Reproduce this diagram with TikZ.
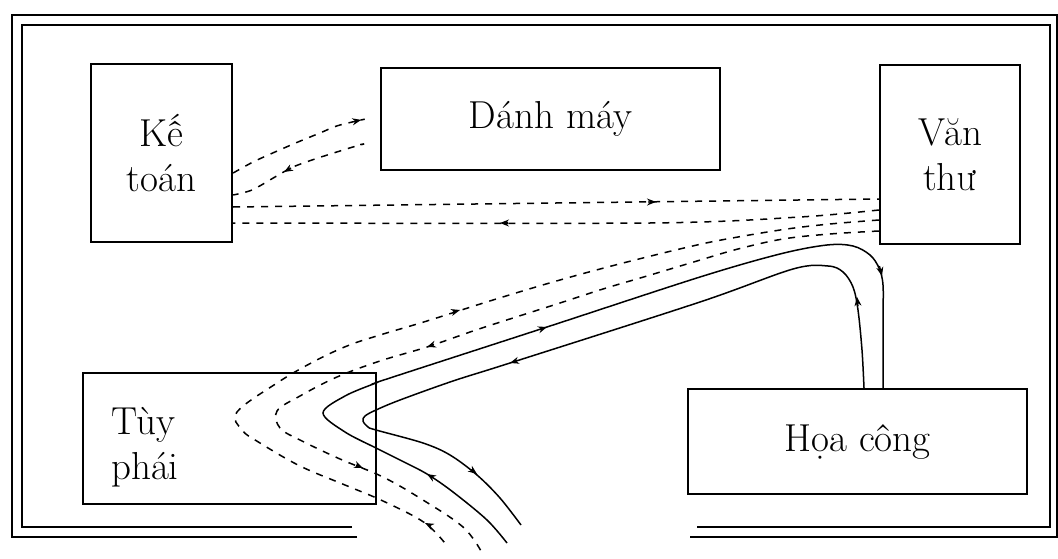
\documentclass[tikz,border=0pt]{standalone}
\usetikzlibrary{arrows.meta}
\begin{document}
\begin{tikzpicture}[x=1pt,y=-1pt,
  box/.style={draw,line width=2.3pt,inner sep=0pt,align=center,font=\fontsize{39}{45}\selectfont},
  lbl/.style={inner sep=0pt,align=left,font=\fontsize{39}{45}\selectfont},
  dline/.style={line width=1.5pt,dash pattern=on 7pt off 7pt},
  sline/.style={line width=1.5pt},
  tipmark/.style={-{Stealth[length=9pt,width=7pt]},line width=1.2pt},
  framel/.style={line width=1.9pt}]
\useasboundingbox (0,0) rectangle (1058,559);
% frame
\draw[framel] (357,537) -- (12,537) -- (12,15) -- (1057,15) -- (1057,537) -- (690,537);
\draw[framel] (352,527) -- (22,527) -- (22,25) -- (1050,25) -- (1050,527) -- (697,527);
% boxes
\node[box,minimum width=141pt,minimum height=178pt] (kt) at (161.5,153) {Kế\\toán};
\node[box,minimum width=339pt,minimum height=102pt] (dm) at (550.5,119) {Dánh máy};
\node[box,minimum width=140pt,minimum height=179pt] (vt) at (950,154.5) {Văn\\thư};
\node[box,minimum width=293pt,minimum height=131pt] (tp) at (229.5,438.5) {};
\node[lbl,anchor=west] (tptext) at (111,447) {Tùy\\phái};
\node[box,minimum width=339pt,minimum height=105pt] (hc) at (857.5,441.5) {Họa công};
% free ends
\coordinate (s1a) at (507,543);
\coordinate (s2b) at (521,525);
\coordinate (d1b) at (448,547);
\coordinate (d2b) at (481,551);
% Ke toan <-> Danh may
\draw[dline,-{Stealth[length=9pt,width=7pt]},shorten >=19pt] plot[smooth] coordinates {(kt.east |- 0,173) (253,162) (275,152) (298,142) (320,133) (340,125) (dm.west |- 0,116)};
\draw[dline,shorten <=20pt] plot[smooth] coordinates {(dm.west |- 0,141) (360,145) (340,151) (315,159) (293,167) (275,177) (252,190) (kt.east |- 0,195)};
\draw[tipmark] (291,168) -- (284,172);
% Ke toan <-> Van thu
\draw[dline] (kt.east |- 0,207) -- (vt.west |- 0,199);
\draw[tipmark] (648,202) -- (656,201.9);
\draw[dline] plot[smooth] coordinates {(vt.west |- 0,210) (800,217) (650,223) (kt.east |- 0,223)};
\draw[tipmark] (508,223) -- (500,223);
% dashed bundle Van thu - Tuy phai
\draw[dline] plot[smooth,tension=0.6] coordinates {(vt.west |- 0,220) (830,224) (787,229) (738,237) (697,245) (627,262) (560,280) (493,300) (427,321) (380,335) (347,346) (313,362) (277,383) (237,412) (242,430) (260,443) (300,466) (345,485) (383,501) (425,523) (d1b)};
\draw[dline] plot[smooth,tension=0.6] coordinates {(vt.west |- 0,231) (830,234) (783,239) (738,249) (697,261) (647,276) (603,289) (560,303) (513,318) (473,331) (427,347) (380,361) (337,377) (300,396) (277,411) (280,428) (300,440) (340,459) (383,477) (423,500) (463,527) (d2b)};
\draw[tipmark] (453,312) -- (460,310);
\draw[tipmark] (431,526) -- (425,523);
\draw[tipmark] (434,344.6) -- (427,347);
\draw[tipmark] (356,465) -- (363,468);
% solid paths
\draw[sline] plot[smooth,tension=0.55] coordinates {(s1a) (487,520) (453,492) (427,474) (400,460) (376,448) (345,432) (323,413) (345,396) (376,383) (393,377) (547,327) (700,277) (780,254) (827,245) (853,246) (870,255) (879,268) (883,285) (883,320) (hc.north -| 883,0)};
\draw[sline] plot[smooth,tension=0.55] coordinates {(hc.north -| 864,0) (862,350) (858,310) (853,287) (843,272) (828,266) (793,269) (700,302) (510,363) (453,381) (400,400) (376,410) (365,416) (363,421) (368,427) (376,430) (423,443) (450,455) (477,475) (500,498) (s2b)};
\draw[tipmark] (432,477) -- (427,474);
\draw[tipmark] (540,329.3) -- (547,327);
\draw[tipmark] (879.5,266) -- (882,276);
\draw[tipmark] (858,306) -- (857,297);
\draw[tipmark] (517,360.8) -- (510,363);
\draw[tipmark] (471,469.5) -- (477,474);
\end{tikzpicture}
\end{document}
